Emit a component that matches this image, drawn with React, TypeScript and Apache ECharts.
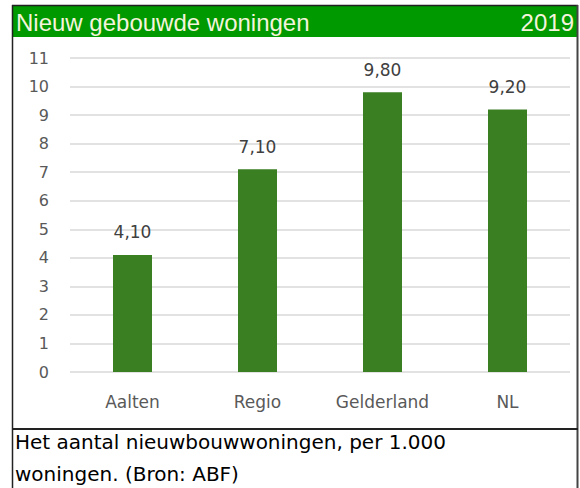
import React, { useEffect, useRef } from "react";
import * as echarts from "echarts";

const categories = ["Aalten", "Regio", "Gelderland", "NL"];
const values = [4.1, 7.1, 9.8, 9.2];
const titleText = "Nieuw gebouwde woningen";
const yearText = "2019";
const footerLines = ["Het aantal nieuwbouwwoningen, per 1.000", "woningen. (Bron: ABF)"];

export default function App() {
  const ref = useRef<HTMLDivElement>(null);
  useEffect(() => {
    const chart = echarts.init(ref.current!, null, { renderer: "svg" });
    chart.setOption({
      animation: false,
      backgroundColor: "#ffffff",
      grid: { left: 70, right: 10, top: 58, bottom: 116 },
      xAxis: {
        type: "category",
        data: categories,
        axisLine: { show: false },
        axisTick: { show: false },
        axisLabel: { color: "#595959", fontSize: 17, fontFamily: "DejaVu Sans", margin: 21 },
      },
      yAxis: {
        type: "value",
        min: 0,
        max: 11,
        interval: 1,
        axisLine: { show: false },
        axisTick: { show: false },
        splitLine: { lineStyle: { color: "#d9d9d9", width: 1.5 } },
        axisLabel: { color: "#595959", fontSize: 16, fontFamily: "DejaVu Sans", margin: 21 },
      },
      series: [
        {
          type: "bar",
          data: values,
          barWidth: 39,
          itemStyle: { color: "#3a7f22" },
          label: {
            show: true,
            position: "top",
            distance: 14,
            color: "#404040",
            fontSize: 17,
            fontFamily: "DejaVu Sans",
            formatter: (p: any) => p.value.toFixed(2).replace(".", ","),
          },
        },
      ],
      graphic: [
        { type: "rect", shape: { x: 13, y: 6, width: 564, height: 31 }, style: { fill: "#009900" } },
        {
          type: "text",
          x: 16,
          y: 22,
          style: { text: titleText, fill: "#f4f4dc", fontSize: 24, fontFamily: "Liberation Sans", textVerticalAlign: "middle" },
        },
        {
          type: "text",
          x: 574,
          y: 22,
          style: { text: yearText, fill: "#f4f4dc", fontSize: 24, fontFamily: "Liberation Sans", textAlign: "right", textVerticalAlign: "middle" },
        },
        { type: "line", shape: { x1: 12.5, y1: 5, x2: 12.5, y2: 488 }, style: { stroke: "#222", lineWidth: 1.5 } },
        { type: "line", shape: { x1: 12, y1: 5.5, x2: 578, y2: 5.5 }, style: { stroke: "#222", lineWidth: 1.5 } },
        { type: "line", shape: { x1: 577.5, y1: 5, x2: 577.5, y2: 488 }, style: { stroke: "#444", lineWidth: 2 } },
        { type: "line", shape: { x1: 12, y1: 429, x2: 578, y2: 429 }, style: { stroke: "#222", lineWidth: 2 } },
        {
          type: "text",
          x: 15,
          y: 442,
          style: { text: footerLines[0], fill: "#000", fontSize: 20, fontFamily: "DejaVu Sans", textVerticalAlign: "middle" },
        },
        {
          type: "text",
          x: 15,
          y: 474,
          style: { text: footerLines[1], fill: "#000", fontSize: 20, fontFamily: "DejaVu Sans", textVerticalAlign: "middle" },
        },
      ],
    });
    return () => chart.dispose();
  }, []);
  return <div ref={ref} style={{ position: "fixed", left: 0, top: 0, width: 580, height: 488 }} />;
}
